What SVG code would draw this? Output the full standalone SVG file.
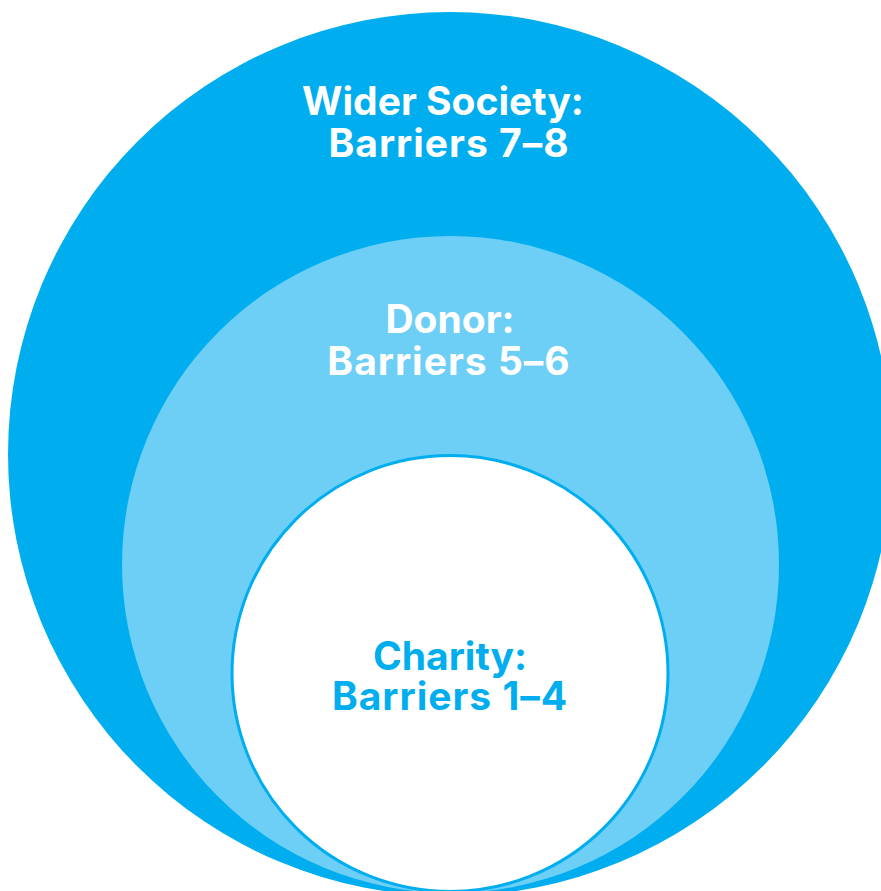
<svg xmlns="http://www.w3.org/2000/svg" width="881" height="891" viewBox="0 0 881 891">
<style>
.lbl{font-family:Inter,"Liberation Sans",sans-serif;font-weight:700;font-size:39px;text-anchor:middle}
.sp{letter-spacing:1px}
.w{fill:#ffffff}
.c{fill:#00AEEF}
</style>
<rect width="881" height="891" fill="#ffffff"/>
<g id="wider-society">
<circle cx="450" cy="454" r="442" fill="#00AEEF"/>
<text class="lbl w" x="443" y="115">Wider Society:</text>
<text class="lbl w sp" x="449" y="157">Barriers 7–8</text>
</g>
<g id="donor">
<circle cx="450.5" cy="564.5" r="328.5" fill="#6DCFF6"/>
<text class="lbl w" x="450" y="333">Donor:</text>
<text class="lbl w sp" x="449" y="375">Barriers 5–6</text>
</g>
<g id="charity">
<circle cx="450" cy="673.5" r="218" fill="#ffffff" stroke="#00AEEF" stroke-width="3"/>
<text class="lbl c" x="450" y="670">Charity:</text>
<text class="lbl c sp" x="450" y="710">Barriers 1–4</text>
</g>
<g id="connectors"/>
</svg>
